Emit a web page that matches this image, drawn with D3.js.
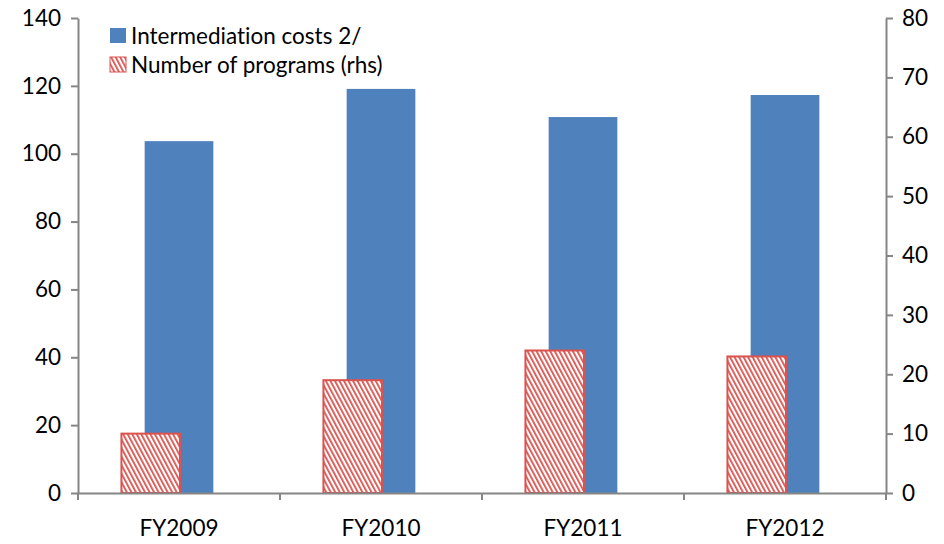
<!DOCTYPE html>
<html>
<head>
<meta charset="utf-8">
<script src="https://cdn.jsdelivr.net/npm/d3@7"></script>
<style>
  body { margin: 0; background: #fff; }
  svg { font-family: Lato, "Open Sans", sans-serif; font-variant-ligatures: none; font-feature-settings: "liga" 0, "clig" 0; }
</style>
</head>
<body>
<svg id="chart" width="944" height="544"></svg>
<script>
// data
var years = ["FY2009", "FY2010", "FY2011", "FY2012"]
var costs = [103.7, 119.1, 110.8, 117.3]      // lhs
var programs = [10, 19, 24, 23]               // rhs
var leftTicks = [0, 20, 40, 60, 80, 100, 120, 140]
var rightTicks = [0, 10, 20, 30, 40, 50, 60, 70, 80]

var dims = { width: 944, height: 544, margin: { top: 18, bottom: 51, left: 78, right: 58 } }
var axisColor = "#868686"
var fontSize = "22.5px"

var svg = d3.select("#chart")

var x0 = dims.margin.left, x1 = dims.width - dims.margin.right
var y0 = dims.height - dims.margin.bottom, y1 = dims.margin.top

var xScale = d3.scaleBand().domain(years).range([x0, x1])
var yLeft = d3.scaleLinear().domain([0, 140]).range([y0, y1])
var yRight = d3.scaleLinear().domain([0, 80]).range([y0, y1])

// hatch pattern
var defs = svg.append("defs")
var pat = defs.append("pattern")
    .attr("id", "hatch")
    .attr("patternUnits", "userSpaceOnUse")
    .attr("width", 4).attr("height", 4)
    .attr("patternTransform", "rotate(-28)")
pat.append("rect").attr("width", 4).attr("height", 4).attr("fill", "#fff")
pat.append("rect").attr("width", 1.8).attr("height", 4).attr("fill", "#d9534f")

var bw = xScale.bandwidth()

// blue bars
svg.selectAll("rect.cost")
    .data(years)
    .enter()
    .append("rect")
    .attr("class", "cost")
    .attr("x", (d, i) => xScale(d) + bw * 0.33)
    .attr("width", bw * 0.34)
    .attr("y", (d, i) => yLeft(costs[i]))
    .attr("height", (d, i) => y0 - yLeft(costs[i]))
    .attr("fill", "#4f81bd")

// hatched bars
svg.selectAll("rect.prog")
    .data(years)
    .enter()
    .append("rect")
    .attr("class", "prog")
    .attr("x", (d, i) => xScale(d) + bw * 0.215)
    .attr("width", bw * 0.29)
    .attr("y", (d, i) => yRight(programs[i]))
    .attr("height", (d, i) => y0 - yRight(programs[i]))
    .attr("fill", "url(#hatch)")
    .attr("stroke", "#d9534f")
    .attr("stroke-width", 2)

// axes
var leftAxis = svg.append("g")
    .attr("transform", `translate(${x0},0)`)
    .call(d3.axisLeft(yLeft).tickValues(leftTicks).tickSize(7).tickSizeOuter(0).tickPadding(10))
var rightAxis = svg.append("g")
    .attr("transform", `translate(${x1},0)`)
    .call(d3.axisRight(yRight).tickValues(rightTicks).tickSize(7).tickSizeOuter(0).tickPadding(9))

var xAxis = svg.append("g")
    .attr("transform", `translate(0,${y0})`)
    .call(d3.axisBottom(xScale).tickSize(0).tickPadding(27))

// x ticks at the category boundaries
svg.append("g").selectAll("line")
    .data(years.map(d => xScale(d)).concat([x1]))
    .enter()
    .append("line")
    .attr("x1", d => d).attr("x2", d => d)
    .attr("y1", y0).attr("y2", y0 + 7)
    .attr("stroke", axisColor).attr("stroke-width", 2)

svg.selectAll(".domain, .tick line").attr("stroke", axisColor).attr("stroke-width", 2)
svg.selectAll(".tick text").attr("fill", "#000").style("font-size", fontSize).style("font-family", "Lato, 'Open Sans', sans-serif")

// legend
var legend = [
    { label: "Intermediation costs 2/", fill: "#4f81bd", stroke: "none" },
    { label: "Number of programs (rhs)", fill: "url(#hatch)", stroke: "#d9534f" }
]
var lg = svg.append("g").selectAll("g")
    .data(legend)
    .enter()
    .append("g")
    .attr("transform", (d, i) => `translate(110,${28 + i * 29})`)
lg.append("rect")
    .attr("width", 16).attr("height", 15)
    .attr("fill", d => d.fill)
    .attr("stroke", d => d.stroke)
lg.append("text")
    .attr("x", 21).attr("y", 16)
    .style("font-size", fontSize)
    .text(d => d.label)
</script>
</body>
</html>
